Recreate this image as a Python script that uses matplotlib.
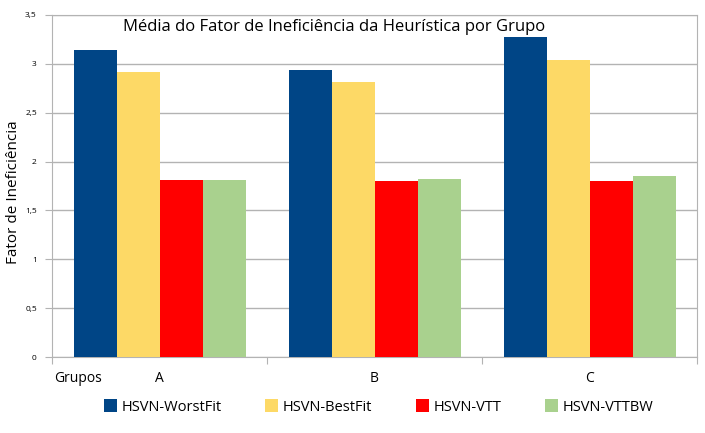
import numpy as np
import matplotlib.pyplot as plt
from matplotlib.patches import Patch

# dados
grupos = ['A', 'B', 'C']
series = ['HSVN-WorstFit', 'HSVN-BestFit', 'HSVN-VTT', 'HSVN-VTTBW']
worstfit = [3.14, 2.94, 3.27]
bestfit = [2.92, 2.81, 3.04]
vtt = [1.81, 1.80, 1.80]
vttbw = [1.81, 1.82, 1.85]
cores = ['#004586', '#FDD966', '#FF0000', '#A9D18E']
yticks = [0, 0.5, 1, 1.5, 2, 2.5, 3, 3.5]

plt.rcParams['font.family'] = ['Open Sans', 'DejaVu Sans']

fig = plt.figure(figsize=(7.05, 4.33), dpi=100)
ax = fig.add_axes([0.0738, 0.1755, 0.9149, 0.79])

x = np.arange(len(grupos))
w = 0.2
for i, (vals, cor) in enumerate(zip([worstfit, bestfit, vtt, vttbw], cores)):
    ax.bar(x + (i - 1.5) * w, vals, width=w, color=cor, zorder=3)

ax.set_xlim(-0.5, 2.5)
ax.set_ylim(0, 3.5)
ax.set_yticks(yticks)
ax.set_yticklabels([f'{t:g}'.replace('.', ',') for t in yticks], fontsize=6)
ax.yaxis.grid(True, color='#b3b3b3', linewidth=1, zorder=0)
ax.tick_params(axis='y', length=5, color='#b3b3b3', pad=6)

# marcas do eixo x entre os grupos
ax.set_xticks([-0.5, 0.5, 1.5, 2.5])
ax.set_xticklabels([])
ax.tick_params(axis='x', length=5, color='#b3b3b3', direction='out')
for s in ax.spines.values():
    s.set_color('#b3b3b3')

for xi, g in zip(x, grupos):
    ax.text(xi, -0.22, g, ha='center', va='center', fontsize=10)
ax.text(-0.49, -0.22, 'Grupos', ha='left', va='center', fontsize=10)

fig.text(14 / 705, 1 - 192 / 433, 'Fator de Ineficiência', rotation=90,
         ha='center', va='center', fontsize=11)
ax.text(0.437, 0.965, 'Média do Fator de Ineficiência da Heurística por Grupo',
        transform=ax.transAxes, ha='center', va='center', fontsize=12)

handles = [Patch(facecolor=c, label=s) for s, c in zip(series, cores)]
fig.legend(handles=handles, loc='center', bbox_to_anchor=(0.537, 0.06), ncol=4,
           frameon=False, fontsize=10.5, handlelength=0.9, handleheight=0.9,
           handletextpad=0.3, columnspacing=3.0)

fig.savefig('out.png', dpi=100)
